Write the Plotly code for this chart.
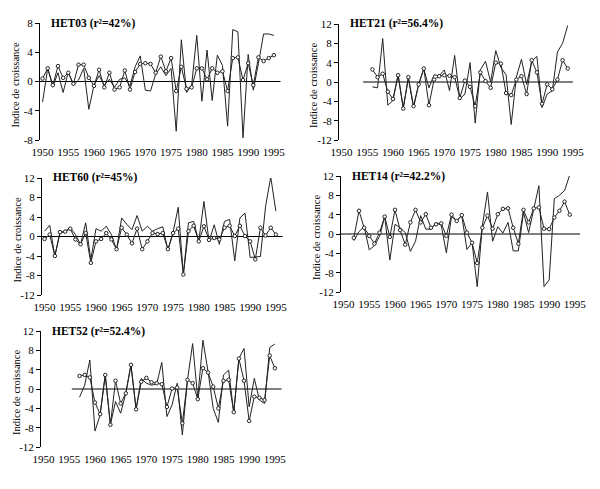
import plotly.graph_objects as go

# ---- data ----
x_tick_years = [1950, 1955, 1960, 1965, 1970, 1975, 1980, 1985, 1990, 1995]
y8_vals = [-8, -4, 0, 4, 8]
y8_text = ["-8", "-4", "0", "4", "8"]
y12_vals = [-12, -8, -4, 0, 4, 8, 12]
y12_text = ["-12", "-8", "-4", "0", "4", "8", "12"]

het03_years = list(range(1950, 1996))
het03_line = [-2.8, 1.8, -0.7, 1.2, -1.5, 1.3, -0.5, 0.2, 1.8, -3.8,
              -0.5, 0.8, -0.5, 0.3, -0.8, 0.3, 0.5, -0.6, 2.0, 3.5,
              -1.2, -1.3, 1.0, 2.0, 0.8, 1.8, -6.8, 5.7, -1.5, -0.5,
              6.3, -2.7, 4.3, -2.6, 3.6, 2.2, -6.1, 7.1, 6.8, -7.7,
              3.7, -1.2, 2.5, 6.5, 6.5, 6.3]
het03_circles = [0.4, 1.8, -0.5, 2.1, 0.5, 1.2, -0.3, 2.3, 2.3, 0.5,
                 -0.6, 1.6, -0.8, 1.2, -1.1, -0.8, 1.5, -1.1, 1.3, 2.4,
                 2.5, 2.4, 1.2, 3.4, 1.4, 3.2, -1.3, 2.0, -1.0, -0.8,
                 1.8, 1.8, 0.3, 1.8, 1.2, 1.4, -1.3, 3.2, 3.3, 0.2,
                 2.5, -0.5, 3.3, 2.8, 3.2, 3.6]

het21_years = list(range(1956, 1995))
het21_line = [-1.0, -1.2, 9.0, -4.8, -3.8, 1.5, -5.3, 0.8, -5.3, -0.5,
              2.7, -1.2, 1.5, 1.3, 2.5, -1.8, 5.5, -3.5, -2.5, 4.0,
              -8.5, 2.5, 4.3, 0.0, 6.5, 3.0, 1.5, -8.8, 1.0, 4.7,
              -0.5, 4.3, 5.3, -5.3, -2.5, -1.8, 6.2, 8.0, 11.7]
het21_circles = [2.6, 1.0, 1.7, -2.0, -3.5, 1.4, -5.5, 1.0, -5.0, -0.5,
                 2.8, -4.8, 0.5, 1.2, 1.4, 1.3, 1.0, -3.3, 0.3, -1.0,
                 -5.0, 2.0, 0.2, -1.2, 4.0, 3.8, -2.3, -2.7, 0.5, 1.2,
                 -2.5, 4.5, 2.0, -4.5, -0.5, -1.5, 0.5, 4.5, 2.8]

het60_years = list(range(1950, 1996))
het60_line = [1.1, 2.3, -4.0, 0.7, 1.1, 1.8, 0.4, -1.6, 2.8, -4.8,
              1.6, 1.1, 2.1, 0.4, -2.7, 3.8, 2.5, 1.4, 4.3, 1.1,
              2.1, 1.1, 1.6, 2.0, -2.8, 0.8, 6.0, -7.8, 2.8, 3.1,
              -1.0, 7.2, -1.0, 2.4, -1.6, 3.1, 3.5, -5.0, 3.8, 4.8,
              -4.3, -4.2, -4.1, 6.2, 12.2, 5.2]
het60_circles = [-0.5, 0.4, -4.0, 0.9, 1.0, 1.6, -0.6, -1.6, 0.7, -5.4,
                 -1.0, -0.5, 0.7, -0.6, -2.6, 1.8, 0.4, -1.4, 1.6, -2.6,
                 -1.0, 0.7, 0.5, 0.7, -2.6, 0.7, 1.6, -7.8, 1.1, 2.2,
                 -1.0, 2.1, -0.7, -0.3, -0.6, 1.8, 2.2, 0.1, 2.2, 0.1,
                 -1.0, -4.7, 1.8, 0.2, 1.8, 0.4]

het14_years = list(range(1952, 1995))
het14_line = [-1.4, 0.5, 1.5, -3.3, -2.4, -0.5, 3.6, -5.4, 2.0, 1.3,
              0.3, -3.6, -1.5, 3.8, 1.0, 1.0, 2.4, 1.8, -3.9, 3.6,
              2.7, 3.8, -3.2, -1.8, -10.9, 1.7, 8.7, -1.5, 1.5, 0.2,
              2.4, -3.5, -3.5, 4.5, 0.3, 5.5, 10.0, -10.9, -9.5, 7.3,
              8.0, 9.0, 12.2]
het14_circles = [-0.8, 4.8, 1.3, -0.4, -2.0, 0.3, 3.6, -0.6, 5.0, 0.8,
                 -2.2, 2.4, 5.0, 2.4, 4.1, 1.3, 2.0, 2.2, -0.4, 4.0,
                 2.7, 3.9, 0.3, -1.8, -6.0, 1.3, 3.8, 1.1, 4.1, 5.2,
                 5.3, 1.3, -2.0, 5.0, 2.4, 5.3, 5.5, 1.1, 1.0, 3.4,
                 4.8, 6.7, 4.0]

het52_years = list(range(1957, 1996))
het52_line = [-1.7, 0.8, 6.0, -8.7, -5.4, 3.0, -7.4, -2.6, -5.0, -0.9,
              5.0, -4.2, 2.2, 1.2, 0.8, 1.0, 5.5, -5.7, -3.3, 1.2,
              -9.5, 1.9, 9.4, -1.9, 10.1, 3.6, -4.0, -6.9, 2.9, 3.9,
              -4.9, 6.3, 8.4, -3.7, 2.2, -2.3, -3.0, 8.6, 9.3]
het52_circles = [2.7, 2.9, 2.4, -2.8, -5.2, 2.9, -7.4, 1.7, -3.0, -0.9,
                 5.0, -4.2, 1.5, 2.3, 1.4, 1.2, 1.0, -3.7, 0.1, 0.3,
                 -7.1, 1.9, 1.2, -2.1, 4.3, 3.4, 0.5, -4.0, 1.7, 1.9,
                 -4.8, 6.3, 1.7, -6.6, -1.6, -1.8, -2.3, 6.9, 4.3]

# ---- layout helpers (pixel boxes of each panel) ----
W, H = 600, 489
PAGE_OFFSET = 8  # default body margin of the html page
FONT = "Liberation Serif, Times New Roman, serif"


def px_x(p):
    return (p - PAGE_OFFSET) / W


def px_y(p):
    return 1 - (p - PAGE_OFFSET) / H


panels = [
    # title, years, line, circles, yticks, ytext, ylim, left, top, bottom, zero-line span
    ("HET03 (r²=42%)", het03_years, het03_line, het03_circles,
     y8_vals, y8_text, 8, 40, 23, 140, (1949.5, 1996.3)),
    ("HET21 (r²=56.4%)", het21_years, het21_line, het21_circles,
     y12_vals, y12_text, 12, 339, 24, 140, (1954.2, 1995.0)),
    ("HET60 (r²=45%)", het60_years, het60_line, het60_circles,
     y12_vals, y12_text, 12, 42, 178, 295, (1949.5, 1996.3)),
    ("HET14 (r²=42.2%)", het14_years, het14_line, het14_circles,
     y12_vals, y12_text, 12, 341, 176, 292, (1949.5, 1996.0)),
    ("HET52 (r²=52.4%)", het52_years, het52_line, het52_circles,
     y12_vals, y12_text, 12, 41, 331, 447, (1955.5, 1996.3)),
]

PX_PER_YEAR = 5.14
X_RANGE = [1949.5, 1996.5]
INK = "#222222"

fig = go.Figure()
layout = dict(
    width=W, height=H,
    margin=dict(l=0, r=0, t=0, b=0, autoexpand=False),
    paper_bgcolor="white", plot_bgcolor="white",
    showlegend=False,
    font=dict(family=FONT, size=11, color="black"),
    shapes=[], annotations=[],
)

for i, (title, yrs, line_vals, circ_vals, yv, yt, ylim, left, top, bottom, span) in enumerate(panels, start=1):
    xa, ya = f"x{i}", f"y{i}"
    right = left + (X_RANGE[1] - X_RANGE[0]) * PX_PER_YEAR

    fig.add_trace(go.Scatter(
        x=yrs, y=line_vals, mode="lines", xaxis=xa, yaxis=ya,
        line=dict(color=INK, width=1)))
    fig.add_trace(go.Scatter(
        x=yrs, y=circ_vals, mode="lines+markers", xaxis=xa, yaxis=ya,
        line=dict(color=INK, width=1),
        marker=dict(symbol="circle", size=3.5, color="white",
                    line=dict(color=INK, width=1))))

    sfx = "" if i == 1 else str(i)
    layout[f"xaxis{sfx}"] = dict(
        domain=[px_x(left), px_x(right)], range=X_RANGE, anchor=ya,
        automargin=False,
        tickvals=x_tick_years, showline=False, showgrid=False,
        zeroline=False, ticks="", ticklabelstandoff=4,
        tickfont=dict(family=FONT, size=11, color="black"))
    layout[f"yaxis{sfx}"] = dict(
        domain=[px_y(bottom), px_y(top)], range=[-ylim, ylim], anchor=xa,
        automargin=False,
        tickvals=yv, ticktext=yt, showline=True, linecolor="black",
        linewidth=1, ticks="outside", ticklen=4, tickcolor="black",
        showgrid=False, zeroline=False,
        tickfont=dict(family=FONT, size=11, color="black"))

    layout["shapes"].append(dict(
        type="line", xref=xa, yref=ya, x0=span[0], x1=span[1], y0=0, y1=0,
        line=dict(color="black", width=1), layer="below"))

    layout["annotations"].append(dict(
        text=f"<b>{title}</b>", xref="paper", yref="paper",
        x=px_x(left + 9), y=px_y(top), xanchor="left", yanchor="middle",
        showarrow=False, font=dict(family=FONT, size=11.5, color="black")))
    layout["annotations"].append(dict(
        text="Indice de croissance", xref="paper", yref="paper",
        x=px_x(left - 25), y=px_y((top + bottom) / 2 + 4), textangle=-90,
        xanchor="center", yanchor="middle", showarrow=False,
        font=dict(family=FONT, size=10.5, color="black")))

fig.update_layout(**layout)
fig.write_html("out.html")
